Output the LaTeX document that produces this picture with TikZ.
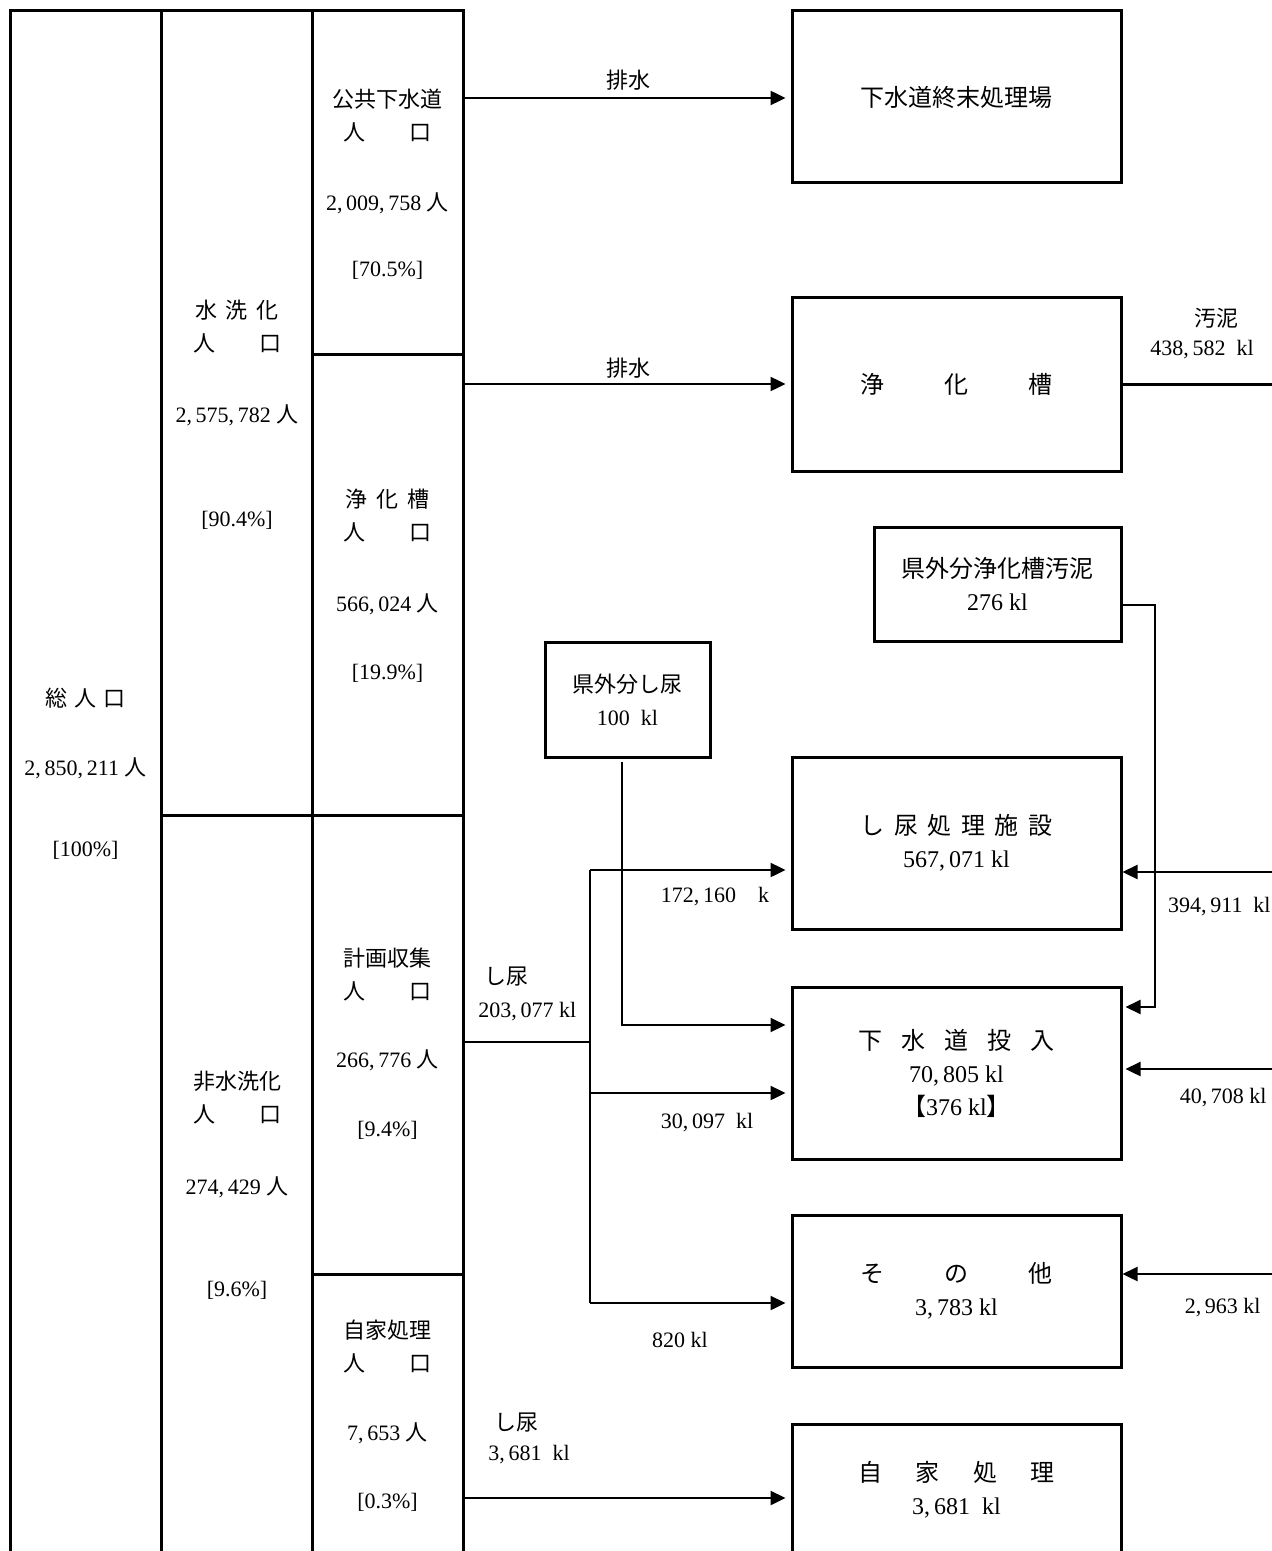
\documentclass[tikz,border=0pt]{standalone}
\usepackage{fontspec}
\setmainfont{Liberation Serif}
\newfontfamily\jp{Noto Sans CJK JP}
\usetikzlibrary{arrows.meta}

\begin{document}
\begin{tikzpicture}[x=0.5pt,y=-0.5pt]
\tikzset{tbl/.style={line width=1.5pt, line join=miter},
  box/.style={draw, rectangle, line width=1.5pt, inner sep=0pt, align=center, minimum width=164.5pt, minimum height=86pt, font=\fontsize{12}{16.5}\selectfont},
  smallbox/.style={box, minimum width=123.5pt, minimum height=57pt},
  jt/.style={inner sep=0pt, align=center, font=\jp\fontsize{11}{16.5}\selectfont},
  nt/.style={inner sep=0pt, align=center, font=\fontsize{11}{16.5}\selectfont},
  flow/.style={line width=1.2pt, -{Triangle[length=7.5pt,width=7pt]}},
  trunk/.style={line width=0.9pt}}
    \useasboundingbox (0,0) rectangle (1271,1551);

    % population table
    \draw[tbl] (10,1560) -- (10,11) -- (463,11) -- (463,1560);
    \draw[tbl] (161,11) -- (161,1560);
    \draw[tbl] (312,11) -- (312,1560);
    \draw[tbl] (161,815) -- (463,815);
    \draw[tbl] (312,355) -- (463,355);
    \draw[tbl] (312,1274) -- (463,1274);

    \node[jt] (sou_t) at (85.5,698) {総\hspace{.3em}人\hspace{.3em}口};
    \node[nt] (sou_n) at (85.5,768) {2,\,850,\,211 {\jp 人}};
    \node[nt] (sou_p) at (85.5,850) {[100\%]};

    \node[jt] (suisen_t) at (237,326.5) {水\hspace{.4em}洗\hspace{.4em}化\\人\hspace{2em}口};
    \node[nt] (suisen_n) at (237,415) {2,\,575,\,782 {\jp 人}};
    \node[nt] (suisen_p) at (237,520) {[90.4\%]};
    \node[jt] (hisuisen_t) at (237,1097.5) {非水洗化\\人\hspace{2em}口};
    \node[nt] (hisuisen_n) at (237,1187) {274,\,429 {\jp 人}};
    \node[nt] (hisuisen_p) at (237,1290) {[9.6\%]};

    \node[jt] (kokyo_t) at (387.5,115.5) {公共下水道\\人\hspace{2em}口};
    \node[nt] (kokyo_n) at (387.5,203) {2,\,009,\,758 {\jp 人}};
    \node[nt] (kokyo_p) at (387.5,270) {[70.5\%]};
    \node[jt] (jokaso_t) at (387.5,515.5) {浄\hspace{.4em}化\hspace{.4em}槽\\人\hspace{2em}口};
    \node[nt] (jokaso_n) at (387.5,604) {566,\,024 {\jp 人}};
    \node[nt] (jokaso_p) at (387.5,673) {[19.9\%]};
    \node[jt] (keikaku_t) at (387.5,975) {計画収集\\人\hspace{2em}口};
    \node[nt] (keikaku_n) at (387.5,1060) {266,\,776 {\jp 人}};
    \node[nt] (keikaku_p) at (387.5,1130) {[9.4\%]};
    \node[jt] (jika_t) at (387.5,1347) {自家処理\\人\hspace{2em}口};
    \node[nt] (jika_n) at (387.5,1433) {7,\,653 {\jp 人}};
    \node[nt] (jika_p) at (387.5,1502) {[0.3\%]};

    \coordinate (kokyo_out) at (463,98);
    \coordinate (jokaso_out) at (463,384);
    \coordinate (keikaku_out) at (463,1042);
    \coordinate (jika_out) at (463,1498);

    % destinations
    \node[box] (shumatsu) at (956.5,97) {{\jp 下水道終末処理場}};
    \node[box, minimum height=86.5pt] (jokaso) at (956.5,384.5) {{\jp 浄\hspace{2.5em}化\hspace{2.5em}槽}};
    \node[smallbox] (kengai_odei) at (997.5,584) {{\jp 県外分浄化槽汚泥}\\276 kl};
    \node[box] (shinyo) at (956.5,843) {{\jp し\hspace{.4em}尿\hspace{.4em}処\hspace{.4em}理\hspace{.4em}施\hspace{.4em}設}\\567,\,071 kl};
    \node[box] (toshin) at (956.5,1073) {{\jp 下\hspace{.8em}水\hspace{.8em}道\hspace{.8em}投\hspace{.8em}入}\\70,\,805 kl\\{\jp 【}376 kl{\jp 】}};
    \node[box, minimum height=76pt] (sonota) at (956.5,1291) {{\jp そ\hspace{2.5em}の\hspace{2.5em}他}\\3,\,783 kl};
    \node[box, minimum height=66pt] (jika) at (956.5,1490) {{\jp 自\hspace{1.4em}家\hspace{1.4em}処\hspace{1.4em}理}\\3,\,681\enspace kl};
    \node[smallbox, minimum width=82.5pt, minimum height=57.5pt, font=\fontsize{11}{16.5}\selectfont] (kengai_shinyo) at (627.5,699.5) {{\jp 県外分し尿}\\100\enspace kl};

    \draw[flow, shorten >=2.5pt] (kokyo_out) -- (shumatsu.west |- kokyo_out);
    \draw[flow, shorten >=2.5pt] (jokaso_out) -- (jokaso.west |- jokaso_out);
    \node[jt] (haisui_1) at (628,80) {排水};
    \node[jt] (haisui_2) at (628,368) {排水};

    \coordinate (odei_out) at (1275,384.5);
    \draw[line width=1.2pt] (jokaso.east) -- (odei_out);
    \node[jt] (odei_t) at (1216,318) {汚泥};
    \node[nt] (odei_n) at (1202,350) {438,\,582\enspace kl};

    \coordinate (ret_1) at (1275,872);
    \coordinate (ret_2) at (1275,1069);
    \coordinate (ret_3) at (1275,1274);
    \draw[flow] (ret_1) -- (shinyo.east |- ret_1);
    \draw[flow, shorten >=1.5pt] (ret_2) -- (toshin.east |- ret_2);
    \draw[flow] (ret_3) -- (sonota.east |- ret_3);
    \node[nt, anchor=east] (ret_1_n) at (1271,907) {394,\,911\enspace kl};
    \node[nt, anchor=east] (ret_2_n) at (1267,1098) {40,\,708 kl};
    \node[nt, anchor=east] (ret_3_n) at (1261,1308) {2,\,963 kl};
    \draw[flow, line width=1pt, shorten >=1.5pt] ([yshift=-10.5pt]kengai_odei.east) -- ++(32,0) |- ([yshift=33pt]toshin.east);

    % collected night soil
    \coordinate (br_0) at (590,1042);
    \coordinate (br_1) at (590,870);
    \coordinate (br_2) at (590,1093);
    \coordinate (br_3) at (590,1303);
    \draw[trunk] (keikaku_out) -- (br_0);
    \draw[trunk] (br_1) -- (br_3);
    \draw[flow, shorten >=2.5pt] (br_1) -- (shinyo.west |- br_1);
    \draw[flow, shorten >=2.5pt] (br_2) -- (toshin.west |- br_2);
    \draw[flow, shorten >=2.5pt] (br_3) -- (sonota.west |- br_3);
    \draw[flow, line width=1pt, shorten >=2.5pt] ([xshift=-2.75pt,yshift=-1.5pt]kengai_shinyo.south) |- ([yshift=24pt]toshin.west);
    \draw[flow, shorten >=2.5pt] (jika_out) -- (jika.west |- jika_out);

    \node[nt] (br_1_n) at (715,897) {172,\,160\quad k};
    \node[nt] (br_2_n) at (707,1123) {30,\,097\enspace kl};
    \node[nt] (br_3_n) at (680,1340) {820 kl};
    \node[jt, anchor=west] (keikaku_f) at (484,977) {し尿};
    \node[nt, anchor=west] (keikaku_fn) at (478,1012) {203,\,077 kl};
    \node[jt, anchor=west] (jika_f) at (494,1423) {し尿};
    \node[nt, anchor=west] (jika_fn) at (488,1455) {3,\,681\enspace kl};
\end{tikzpicture}
\end{document}
